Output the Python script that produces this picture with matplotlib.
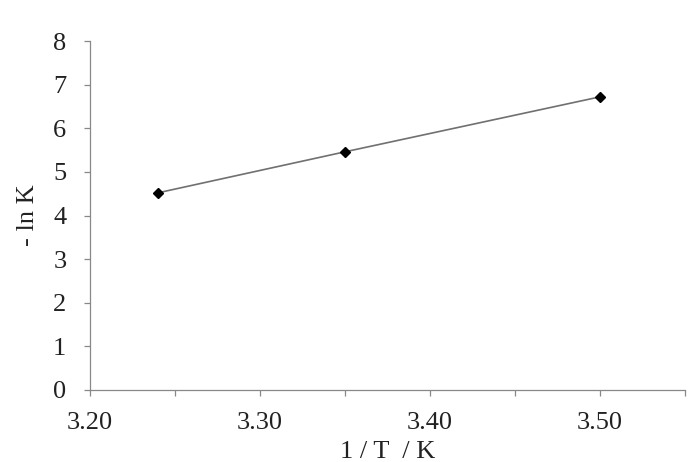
import matplotlib
matplotlib.use("Agg")
import matplotlib.pyplot as plt
from matplotlib.ticker import MultipleLocator

inv_t = [3.24, 3.35, 3.50]
neg_ln_k = [4.52, 5.46, 6.72]
x_ticks = [3.20, 3.30, 3.40, 3.50]
x_tick_labels = ["3.20", "3.30", "3.40", "3.50"]
y_ticks = [0, 1, 2, 3, 4, 5, 6, 7, 8]

plt.rcParams["font.family"] = ["Liberation Serif", "DejaVu Serif"]

fig = plt.figure(figsize=(6.91, 4.62), dpi=100)
ax = fig.add_axes([90 / 691, 72 / 462, 595 / 691, 349 / 462])

ax.plot(inv_t, neg_ln_k, color="#707070", linewidth=1.2, zorder=2)
ax.plot(inv_t, neg_ln_k, linestyle="none", marker="D", markersize=5.5,
        color="black", zorder=3)

ax.set_xlim(3.20, 3.55)
ax.set_ylim(0, 8)
ax.set_xticks(x_ticks)
ax.set_xticklabels(x_tick_labels)
ax.xaxis.set_minor_locator(MultipleLocator(0.05))
ax.set_yticks(y_ticks)

for side in ("top", "right"):
    ax.spines[side].set_visible(False)
for side in ("left", "bottom"):
    ax.spines[side].set_color("#888888")
    ax.spines[side].set_linewidth(0.9)

ax.tick_params(axis="both", which="both", direction="out", length=4,
               width=0.9, color="#888888", labelsize=19, labelcolor="#222222")
ax.tick_params(axis="x", which="both", pad=12)
ax.tick_params(axis="y", which="both", pad=13)

ax.set_xlabel("1 / T  / K", fontsize=19, labelpad=5, color="#222222")
ax.set_ylabel("- ln K", fontsize=19, labelpad=10, color="#222222")

fig.savefig("out.png", dpi=100)
